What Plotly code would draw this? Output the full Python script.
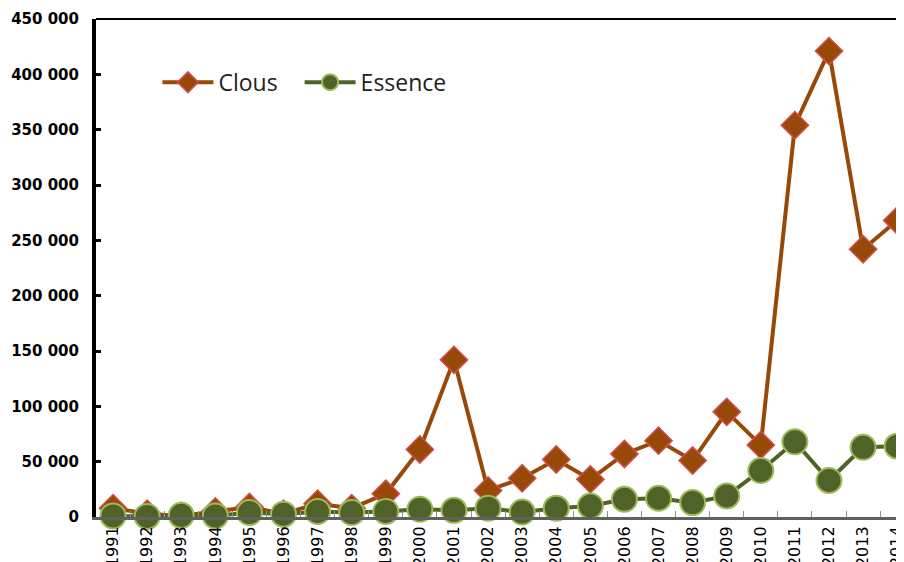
import plotly.graph_objects as go

years = [str(y) for y in range(1991, 2015)]
clous = [8000, 3000, 1000, 5000, 9000, 3000, 12000, 8000, 21000, 61000, 142000, 24000,
         35000, 52000, 34000, 57000, 69000, 51000, 95000, 65000, 354000, 421000, 242000, 268000]
essence = [1000, 500, 1500, 1000, 4000, 2500, 5000, 4000, 5000, 7000, 6000, 8000,
           4500, 8000, 10000, 16000, 17000, 13000, 19000, 42000, 68000, 33000, 63000, 64000]
ytick_vals = [0, 50000, 100000, 150000, 200000, 250000, 300000, 350000, 400000, 450000]
ytick_text = ["0", "50 000", "100 000", "150 000", "200 000", "250 000", "300 000",
              "350 000", "400 000", "450 000"]

fig = go.Figure()
fig.add_trace(go.Scatter(
    x=years, y=clous, name="Clous", mode="lines+markers", cliponaxis=False,
    line=dict(color="#984807", width=4), legend="legend",
    marker=dict(symbol="diamond", size=21, color="#984807",
                line=dict(color="#D0504D", width=1.5)),
))
fig.add_trace(go.Scatter(
    x=years, y=essence, name="Essence", mode="lines+markers", cliponaxis=False,
    line=dict(color="#4F6228", width=4), legend="legend2",
    marker=dict(symbol="circle", size=25, color="#4F6228",
                line=dict(color="#9BBB59", width=2)),
))

leg_common = dict(orientation="h", y=0.873, xanchor="left", yanchor="middle",
                  font=dict(family="Open Sans", size=23, color="#222"),
                  bgcolor="rgba(0,0,0,0)", itemwidth=51)

fig.update_layout(
    width=904, height=562,
    margin=dict(l=88, r=8, t=11, b=53, autoexpand=False),
    paper_bgcolor="white", plot_bgcolor="white",
    showlegend=True,
    legend=dict(x=0.076, **leg_common),
    legend2=dict(x=0.252, **leg_common),
    xaxis=dict(
        type="category", range=[-0.5, 23.2],
        tickangle=-90, tickfont=dict(family="DejaVu Sans", size=16, color="black"),
        showline=True, linecolor="#606060", linewidth=3,
        ticks="inside", tickson="boundaries", ticklen=6, tickcolor="#909090", tickwidth=1,
        showgrid=False, zeroline=False, automargin=False, ticklabelstandoff=0,
    ),
    yaxis=dict(
        range=[0, 450000], tickvals=ytick_vals, ticktext=ytick_text,
        tickfont=dict(family="DejaVu Sans", size=15, color="black", weight="bold"),
        showline=True, linecolor="black", linewidth=4,
        ticks="inside", ticklen=5, tickwidth=3, tickcolor="black",
        showgrid=False, zeroline=False, ticklabelstandoff=10, automargin=False,
    ),
    shapes=[dict(type="line", xref="paper", yref="paper", x0=0, x1=1, y0=1, y1=1,
                 line=dict(color="black", width=2))],
)

fig.write_html("out.html")
